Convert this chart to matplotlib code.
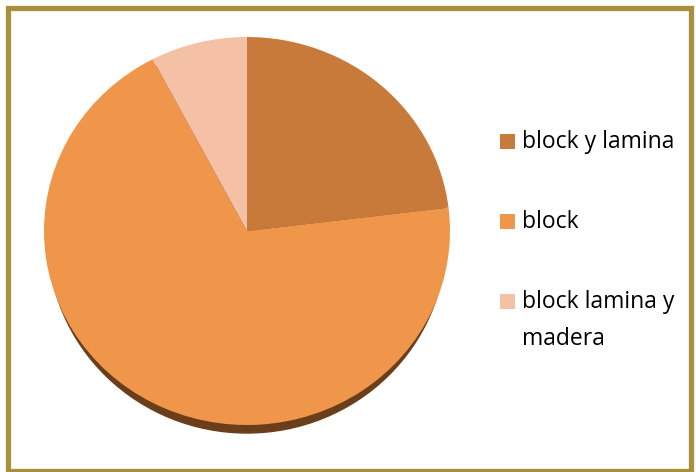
import matplotlib
matplotlib.use("Agg")
import matplotlib.pyplot as plt
from matplotlib.patches import Rectangle, Ellipse

labels = ["block y lamina", "block", "block lamina y\nmadera"]
values = [3, 9, 1]
colors = ["#C87A3A", "#F0964A", "#F4C1A6"]

W, H = 696, 472
fig = plt.figure(figsize=(W / 100, H / 100), dpi=100)

# background axes in pixel coords
bg = fig.add_axes([0, 0, 1, 1])
bg.set_xlim(0, W)
bg.set_ylim(H, 0)
bg.axis("off")
bg.add_patch(Rectangle((7.5, 7.5), 683, 463, fill=False, edgecolor="#A8903F", linewidth=3.8))

cx, cy, rx, ry = 247, 231, 203, 194
# 3D shadow rim
bg.add_patch(Ellipse((cx, cy + 8), 2 * rx - 8, 2 * ry, color="#6A3E1A", zorder=1))

# pie axes
ax = fig.add_axes([(cx - rx) / W, 1 - (cy + ry) / H, 2 * rx / W, 2 * ry / H])
ax.pie(values, colors=colors, startangle=90, counterclock=False, radius=1,
       wedgeprops=dict(linewidth=0), frame=True)
ax.set_xlim(-1, 1)
ax.set_ylim(-1, 1)
ax.set_aspect("auto")
ax.axis("off")

# legend
ys = [142, 222, 302]
for lab, col, y in zip(labels, colors, ys):
    bg.add_patch(Rectangle((500, y - 8), 15, 15, color=col, linewidth=0))
    bg.text(522, y - 12, lab, fontsize=16.5, va="top", ha="left", color="#000000",
            family="Open Sans", linespacing=1.7)

fig.savefig("out.png", dpi=100)
